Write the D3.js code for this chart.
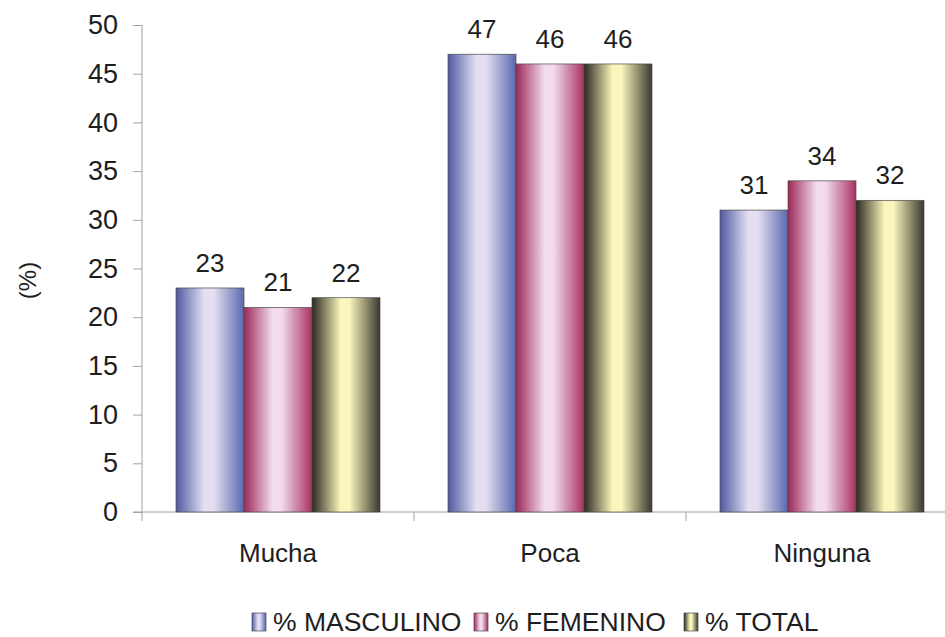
<!DOCTYPE html>
<html>
<head>
<meta charset="utf-8">
<script src="https://cdn.jsdelivr.net/npm/d3@7"></script>
<style>
  html, body { margin: 0; padding: 0; background: #fff; }
  svg { display: block; font-family: "Liberation Sans", Arial, sans-serif; }
</style>
</head>
<body>
<svg id="chart" width="945" height="637"></svg>
<script>
// Categories and series
const categories = ["Mucha", "Poca", "Ninguna"];
const seriesNames = ["% MASCULINO", "% FEMENINO", "% TOTAL"];
const masculino = [23, 47, 31];
const femenino = [21, 46, 34];
const total = [22, 46, 32];
const yTicks = [0, 5, 10, 15, 20, 25, 30, 35, 40, 45, 50];

const seriesValues = [masculino, femenino, total];
// gradient stops per series: edge, center, edge
const seriesShades = [
  ["#4f5aa2", "#e4e0f2", "#5a68ac"],
  ["#9e2858", "#f2dcec", "#a83262"],
  ["#28281f", "#fbf6bc", "#38382e"]
];

const svg = d3.select("#chart");
const margin = { left: 142, right: -13, top: 25, bottom: 125 };
const W = 945, H = 637;
const font = "Liberation Sans, Arial, sans-serif";
const ink = "#1e1e1e";

const x = d3.scaleBand()
  .domain(categories)
  .range([margin.left, W - margin.right])
  .paddingInner(0.25)
  .paddingOuter(0.125);

const xs = d3.scaleBand()
  .domain(seriesNames)
  .range([0, x.bandwidth()])
  .padding(0);

const y = d3.scaleLinear().domain([0, 50]).range([H - margin.bottom, margin.top]);

// Gradients
const defs = svg.append("defs");
seriesShades.forEach((s, i) => {
  const g = defs.append("linearGradient")
    .attr("id", "grad" + i)
    .attr("x1", "0%").attr("x2", "100%").attr("y1", "0%").attr("y2", "0%");
  g.append("stop").attr("offset", "0%").attr("stop-color", s[0]);
  g.append("stop").attr("offset", "42%").attr("stop-color", s[1]);
  g.append("stop").attr("offset", "55%").attr("stop-color", s[1]);
  g.append("stop").attr("offset", "100%").attr("stop-color", s[2]);
});

// Y axis
const yAxis = d3.axisLeft(y).tickValues(yTicks).tickSize(9).tickPadding(15);
const yg = svg.append("g")
  .attr("transform", `translate(${margin.left},0)`)
  .call(yAxis);
yg.selectAll("path, line").attr("stroke", "#a0a0a0");
yg.select(".domain").attr("d", `M0,${y(50)}V${y(0)}`);
yg.selectAll("text").attr("font-size", 27).attr("fill", ink)
  .attr("font-family", font);

// X axis with category boundary ticks
const xg = svg.append("g").attr("transform", `translate(0,${y(0)})`);
xg.append("line")
  .attr("x1", margin.left - 9).attr("x2", W)
  .attr("stroke", "#a0a0a0");
const step = x.step();
const start = x(categories[0]) - x.paddingOuter() * step;
const bounds = d3.range(categories.length + 1).map(i => start + i * step);
xg.selectAll(".bt").data(bounds).join("line")
  .attr("class", "bt")
  .attr("x1", d => d).attr("x2", d => d)
  .attr("y1", 0).attr("y2", 9)
  .attr("stroke", "#a0a0a0");
xg.selectAll(".cl").data(categories).join("text")
  .attr("class", "cl")
  .attr("x", d => x(d) + x.bandwidth() / 2)
  .attr("y", 50)
  .attr("text-anchor", "middle")
  .attr("font-size", 26)
  .attr("fill", ink)
  .text(d => d);

// Bars
const groups = svg.append("g").selectAll("g").data(categories).join("g")
  .attr("transform", d => `translate(${x(d)},0)`);

groups.each(function(cat, ci) {
  const g = d3.select(this);
  seriesNames.forEach((s, si) => {
    const v = seriesValues[si][ci];
    g.append("rect")
      .attr("x", xs(s))
      .attr("y", y(v))
      .attr("width", xs.bandwidth())
      .attr("height", y(0) - y(v))
      .attr("fill", `url(#grad${si})`)
      .attr("stroke", "#4a4a4a")
      .attr("stroke-width", 0.7);
    g.append("text")
      .attr("x", xs(s) + xs.bandwidth() / 2)
      .attr("y", y(v) - 16)
      .attr("text-anchor", "middle")
      .attr("font-size", 26)
      .attr("fill", ink)
      .text(v);
  });
});

// Y axis title
svg.append("text")
  .attr("transform", `translate(36,${(y(0) + y(50)) / 2 + 12}) rotate(-90)`)
  .attr("text-anchor", "middle")
  .attr("font-size", 24)
  .attr("fill", ink)
  .text("(%)");

// Legend
const legend = svg.append("g").attr("transform", "translate(0,631)");
const itemX = [252, 474, 684];
seriesNames.forEach((s, i) => {
  const it = legend.append("g").attr("transform", `translate(${itemX[i]},0)`);
  it.append("rect")
    .attr("x", 0).attr("y", -18)
    .attr("width", 14).attr("height", 18)
    .attr("fill", `url(#grad${i})`)
    .attr("stroke", "#4a4a4a").attr("stroke-width", 0.7);
  it.append("text")
    .attr("x", 21).attr("y", 0)
    .attr("font-size", 26.5)
    .attr("fill", ink)
    .text(s);
});
</script>
</body>
</html>
